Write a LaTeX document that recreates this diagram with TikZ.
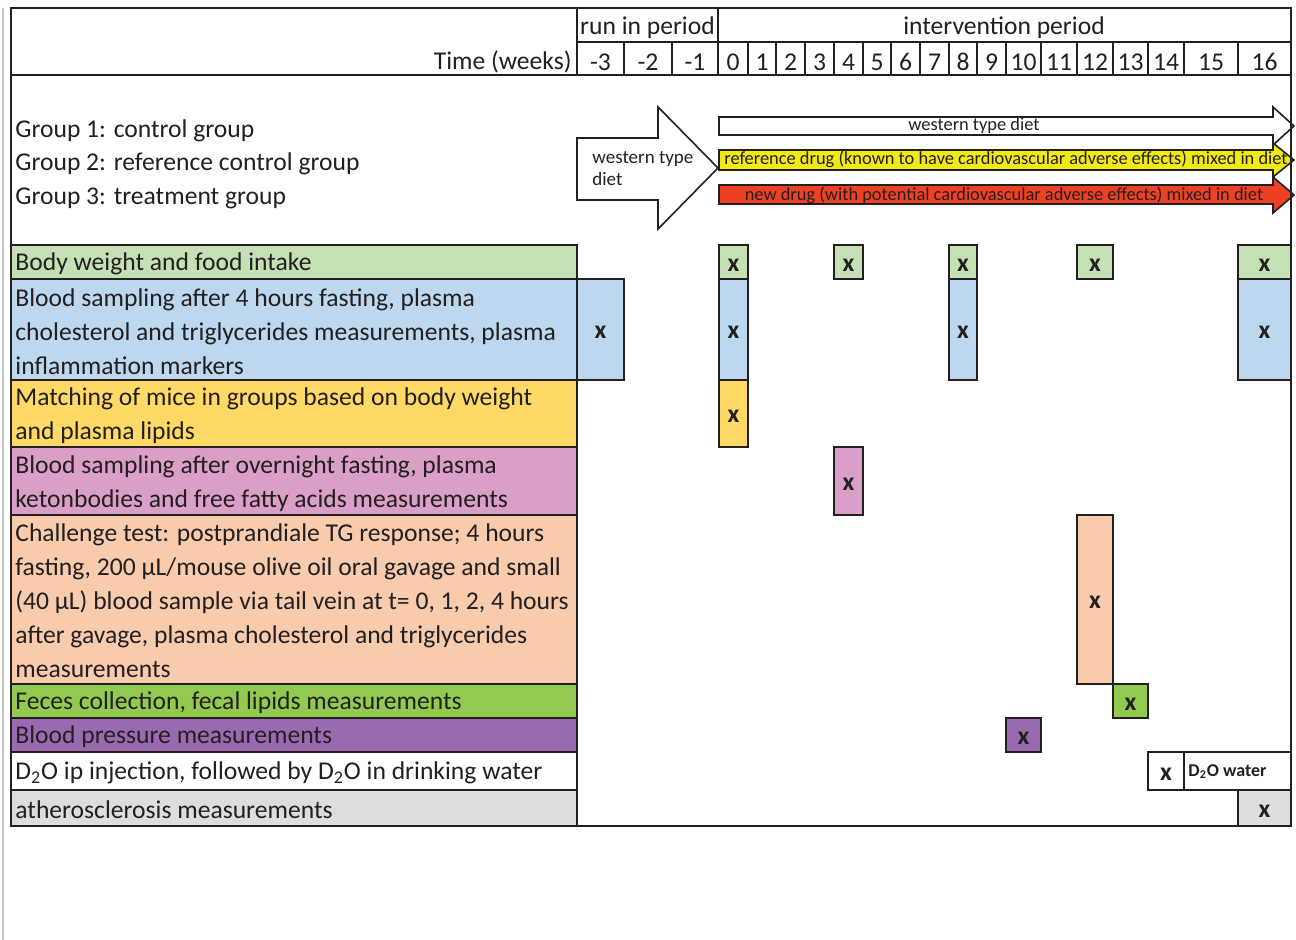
\documentclass[tikz,border=0pt]{standalone}
\usepackage{fontspec}
\setmainfont{Carlito}
\definecolor{wtgreen}{HTML}{C5E0B4}
\definecolor{blsblue}{HTML}{BDD7EE}
\definecolor{matchyel}{HTML}{FFD966}
\definecolor{ketpink}{HTML}{DA9FC8}
\definecolor{chalpeach}{HTML}{F8CBAD}
\definecolor{fecgreen}{HTML}{92C94F}
\definecolor{bppurple}{HTML}{9A6AB0}
\definecolor{athgray}{HTML}{DCDDDE}
\definecolor{refyel}{HTML}{F0E916}
\definecolor{newred}{HTML}{EE4023}
\definecolor{ink}{HTML}{231F20}
\begin{document}
\begin{tikzpicture}[x=0.5pt, y=-0.5pt, ink,
    lbl/.style={anchor=west, align=left, inner sep=0pt, text=ink, font=\fontsize{12.8}{17}\selectfont},
    hdr/.style={inner sep=0pt, text=ink, font=\fontsize{12.8}{17}\selectfont},
    small/.style={inner sep=0pt, text=ink, font=\fontsize{9.2}{11}\selectfont},
    cellbox/.style={draw=ink, line width=1pt},
    thinline/.style={draw=ink, line width=0.8pt},
    xmark/.style={inner sep=0pt, text=ink, font=\bfseries\fontsize{12.8}{15}\selectfont}]
    \useasboundingbox (0,0) rectangle (1296,940);

    % grauer Rand links
    \draw[gray!45, line width=1pt] (3,8) -- (3,940);

    % Kopfzeile
    \draw[thinline] (577,42) -- (1291,42);
    \draw[line width=1.2pt] (577,8) -- (577,75);
    \draw[line width=1.2pt] (718,8) -- (718,75);
    \node[hdr] (runin) at (647.5,28) {run in period};
    \node[hdr] (interv) at (1004,28) {intervention period};
    \node[hdr, anchor=east] (time) at (572,62) {Time (weeks)};
    \foreach \xa/\xb/\t [count=\i] in {577/624/-3, 624/672/-2, 672/718/-1,
        718/748/0, 748/776/1, 776/805/2, 805/834/3, 834/863/4, 863/891/5,
        891/920/6, 920/949/7, 949/977/8, 977/1006/9, 1006/1041/10,
        1041/1077/11, 1077/1113/12, 1113/1148/13, 1148/1184/14,
        1184/1238/15, 1238/1291/16} {
        \draw[thinline] (\xb,42) -- (\xb,75);
        \node[hdr] (wk\i) at ({(\xa+\xb)/2},62) {\t};
    }

    % Gruppen
    \node[lbl] (grp1) at (15,131) {Group 1: control group};
    \node[lbl] (grp2) at (15,164) {Group 2: reference control group};
    \node[lbl] (grp3) at (15,198) {Group 3: treatment group};

    % grosser Pfeil run in
    \draw[cellbox, fill=white, line width=0.8pt] (577,138) -- (658,138) -- (658,107)
        -- (718,168) -- (658,229) -- (658,200) -- (577,200) -- cycle;
    \node[small, anchor=west, align=left, font=\fontsize{9.5}{11}\selectfont] (wtrun) at (592,169)
        {western type\\diet};

    % Diaet-Pfeile
    \draw[cellbox, fill=white, line width=0.8pt] (719,117) -- (1273,117) -- (1273,107)
        -- (1294,126) -- (1273,145) -- (1273,135) -- (719,135) -- cycle;
    \draw[cellbox, fill=refyel, line width=0.8pt] (719,150) -- (1273,150) -- (1273,143)
        -- (1294,160) -- (1273,177) -- (1273,170) -- (719,170) -- cycle;
    \draw[cellbox, fill=newred, line width=0.8pt] (719,185) -- (1273,185) -- (1273,177)
        -- (1294,195) -- (1273,213) -- (1273,204) -- (719,204) -- cycle;
    \node[small] (wtdiet) at (974,126) {western type diet};
    \node[small] (refdrug) at (1006,159) {reference drug (known to have cardiovascular adverse effects) mixed in diet};
    \node[small] (newdrug) at (1004,195) {new drug (with potential cardiovascular adverse effects) mixed in diet};

    % Zeilen links
    \draw[cellbox, fill=wtgreen] (11,245) rectangle (577,279);
    \draw[cellbox, fill=blsblue] (11,279) rectangle (577,380);
    \draw[cellbox, fill=matchyel] (11,380) rectangle (577,447);
    \draw[cellbox, fill=ketpink] (11,447) rectangle (577,515);
    \draw[cellbox, fill=chalpeach] (11,515) rectangle (577,684);
    \draw[cellbox, fill=fecgreen] (11,684) rectangle (577,718);
    \draw[cellbox, fill=bppurple] (11,718) rectangle (577,752);
    \draw[cellbox, fill=white] (11,752) rectangle (577,790);
    \draw[cellbox, fill=athgray] (11,790) rectangle (577,826);

    \node[lbl] (bw) at (15,264) {Body weight and food intake};
    \node[lbl] (bs4) at (15,332) {Blood sampling after 4 hours fasting, plasma\\
        cholesterol and triglycerides measurements, plasma\\inflammation markers};
    \node[lbl] (match) at (15,416) {Matching of mice in groups based on body weight\\and plasma lipids};
    \node[lbl] (ovn) at (15,484) {Blood sampling after overnight fasting, plasma\\
        ketonbodies and free fatty acids measurements};
    \node[lbl] (chal) at (15,601) {Challenge test: postprandiale TG response; 4 hours\\
        fasting, 200 µL/mouse olive oil oral gavage and small\\
        (40 µL) blood sample via tail vein at t= 0, 1, 2, 4 hours\\
        after gavage, plasma cholesterol and triglycerides\\measurements};
    \node[lbl] (fec) at (15,703) {Feces collection, fecal lipids measurements};
    \node[lbl] (bp) at (15,737) {Blood pressure measurements};
    \node[lbl] (dto) at (15,773) {D\textsubscript{2}O ip injection, followed by D\textsubscript{2}O in drinking water};
    \node[lbl] (ath) at (15,810) {atherosclerosis measurements};

    % Messzeitpunkte
    \foreach \xa/\xb/\ya/\yb/\col [count=\i] in {
        719/748/245/279/wtgreen, 834/863/245/279/wtgreen, 949/977/245/279/wtgreen,
        1077/1113/245/279/wtgreen, 1238/1291/245/279/wtgreen,
        577/624/279/380/blsblue, 719/748/279/380/blsblue, 949/977/279/380/blsblue,
        1238/1291/279/380/blsblue,
        719/748/380/447/matchyel,
        834/863/447/515/ketpink,
        1077/1113/515/684/chalpeach,
        1113/1148/684/718/fecgreen,
        1006/1041/718/752/bppurple,
        1148/1184/752/790/white,
        1238/1291/790/826/athgray} {
        \draw[cellbox, fill=\col] (\xa,\ya) rectangle (\xb,\yb);
        \node[xmark] (x\i) at ({(\xa+\xb)/2},{(\ya+\yb)/2+3}) {x};
    }
    \draw[cellbox, fill=white] (1184,752) rectangle (1291,790);
    \node[small, anchor=west, font=\bfseries\fontsize{9}{11}\selectfont] (dtow) at (1188,772)
        {D\textsubscript{2}O water};

    % Rahmen
    \draw[line width=1.2pt] (11,75) -- (1291,75);
    \draw[line width=1.4pt] (11,8) rectangle (1291,826);
\end{tikzpicture}
\end{document}
